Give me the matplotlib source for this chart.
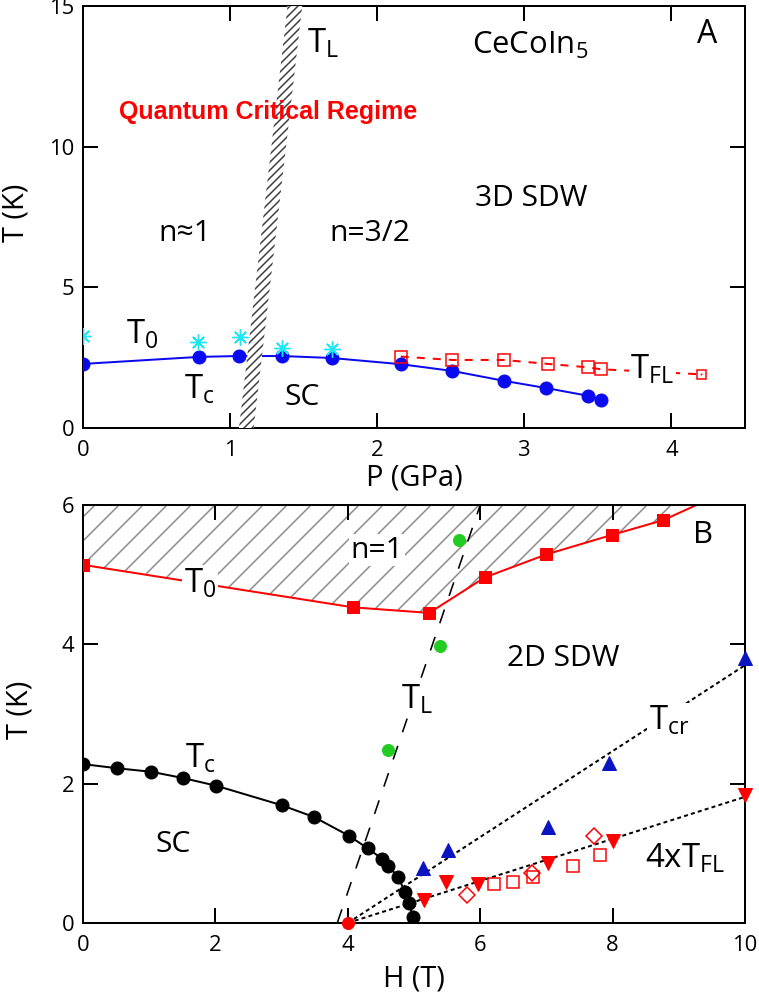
import matplotlib
matplotlib.use("Agg")
import matplotlib.pyplot as plt

plt.rcParams["font.family"] = ["Open Sans", "DejaVu Sans"]
plt.rcParams["mathtext.fontset"] = "custom"
plt.rcParams["mathtext.rm"] = "Open Sans"
plt.rcParams["mathtext.it"] = "Open Sans:italic"
plt.rcParams["mathtext.default"] = "rm"
plt.rcParams["hatch.linewidth"] = 1.5

# ---- panel A: T vs pressure ----
p_tc = [0.0, 0.79, 1.06, 1.35, 1.69, 2.16, 2.51, 2.86, 3.15, 3.43, 3.52]
t_tc = [2.28, 2.53, 2.56, 2.56, 2.49, 2.27, 2.03, 1.68, 1.42, 1.15, 1.0]
p_t0 = [0.0, 0.78, 1.07, 1.35, 1.69]
t_t0 = [3.28, 3.05, 3.23, 2.84, 2.81]
p_tfl = [2.16, 2.51, 2.86, 3.16, 3.43, 3.52, 4.2]
t_tfl = [2.54, 2.42, 2.42, 2.28, 2.16, 2.09, 1.91]
tl_band_t = [0, 15]
tl_band_left = [1.06, 1.39]
tl_band_right = [1.16, 1.49]

# ---- panel B: T vs field ----
h_tc = [0, 0.52, 1.03, 1.51, 2.01, 3.0, 3.49, 4.02, 4.3, 4.52, 4.61, 4.76, 4.86, 4.93, 4.98]
t_tc_h = [2.28, 2.22, 2.17, 2.08, 1.97, 1.69, 1.52, 1.25, 1.07, 0.92, 0.82, 0.66, 0.45, 0.28, 0.09]
h_t0 = [0, 4.08, 5.23, 6.07, 7.0, 7.99, 8.76]
t_t0_h = [5.14, 4.53, 4.45, 4.96, 5.29, 5.57, 5.78]
h_t0_end = 9.27   # T0 line runs on to the top of the frame
h_tl = [4.6, 5.39, 5.68]
t_tl = [2.48, 3.97, 5.5]
h_tl_line = [3.84, 6.0]
t_tl_line = [0, 6]
h_tcr = [5.14, 5.51, 7.02, 7.95, 10.0]
t_tcr = [0.79, 1.05, 1.38, 2.3, 3.8]
h_tcr_line = [4, 10]
t_tcr_line = [0, 3.7]
h_tfl4 = [5.15, 5.48, 5.97, 7.02, 8.0, 10.0]
t_tfl4 = [0.33, 0.59, 0.56, 0.86, 1.18, 1.84]
h_tfl4_line = [4, 10]
t_tfl4_line = [0, 1.81]
h_diam = [5.8, 6.78, 7.72]
t_diam = [0.4, 0.72, 1.25]
h_sq = [6.21, 6.5, 6.8, 7.4, 7.81]
t_sq = [0.56, 0.59, 0.66, 0.82, 0.98]
h_qcp = [4.0]
t_qcp = [0.0]

BLUE = "#0a0af0"
RED = "#ff0000"
CYAN = "#1ee6f2"
GREEN = "#22cc22"
NAVY = "#0a14c0"
WHITE_BOX = dict(facecolor="white", edgecolor="none", pad=1.5)


def style_axes(ax):
    ax.tick_params(direction="in", length=15, width=2, top=True, right=True,
                   labelsize=22, color="black")
    ax.tick_params(axis="x", pad=12)
    ax.tick_params(axis="y", pad=9)
    for s in ax.spines.values():
        s.set_linewidth(2)


def label(ax, x, y, s, size=30, box=False, **kw):
    if box:
        kw["bbox"] = WHITE_BOX
    ax.text(x, y, s, fontsize=size, ha="center", va="center", zorder=6, **kw)


fig = plt.figure(figsize=(759 / 72, 992 / 72), dpi=72)
axA = fig.add_axes([0.1094, 0.5685, 0.8722, 0.4254])
axB = fig.add_axes([0.1094, 0.0696, 0.8722, 0.4214])

# ---------------- panel A ----------------
axA.plot(p_tc, t_tc, "-o", color=BLUE, lw=2, ms=13, zorder=3)
axA.plot(p_t0, t_t0, ls="none", marker=(8, 2, 0), ms=16, mec=CYAN, mew=1.4, zorder=3)
axA.plot(p_tfl, t_tfl, color=RED, lw=2, dashes=(4, 4), zorder=2)
axA.plot(p_tfl[:-1], t_tfl[:-1], "s", ls="none", ms=12, mfc="none", mec=RED, mew=1.5, zorder=3)
axA.plot(p_tfl[-1:], t_tfl[-1:], "s", ls="none", ms=9, mfc="none", mec=RED, mew=1.5, zorder=3)
axA.plot(p_tfl[-1:], t_tfl[-1:], ".", ls="none", ms=2, color=RED, zorder=3)
axA.fill_betweenx(tl_band_t, tl_band_left, tl_band_right, facecolor="white",
                  edgecolor="#3c3c3c", hatch="///", linewidth=0, zorder=4)

axA.set_xlim(0, 4.5)
axA.set_ylim(0, 15)
axA.set_xticks([0, 1, 2, 3, 4])
axA.set_yticks([0, 5, 10, 15])
style_axes(axA)
axA.set_xlabel("P (GPa)", fontsize=29)
axA.xaxis.set_label_coords(0.5, -0.085)
axA.set_ylabel("T (K)", fontsize=29)
axA.yaxis.set_label_coords(-0.08, 0.51)

label(axA, 1.63, 13.67, r"T$_{\rm L}$", size=33)
label(axA, 3.04, 13.6, r"CeCoIn$_{\rm 5}$", size=31)
label(axA, 4.24, 14.0, "A", size=32)
label(axA, 1.26, 11.25, "Quantum Critical Regime", size=25, color=RED,
      family="Liberation Sans", weight="bold")
label(axA, 0.69, 6.9, "n≈1")
label(axA, 1.95, 6.9, "n=3/2")
label(axA, 3.05, 8.15, "3D SDW")
label(axA, 0.40, 3.3, r"T$_{\rm 0}$", size=33)
label(axA, 0.79, 1.35, r"T$_{\rm c}$", size=33)
label(axA, 1.49, 1.07, "SC")
label(axA, 3.87, 2.06, r"T$_{\rm FL}$", size=33, box=True)

# ---------------- panel B ----------------
h_t0_line = h_t0 + [h_t0_end]
t_t0_line = t_t0_h + [6.0]
axB.fill_between(h_t0_line, t_t0_line, 6.0, facecolor="white", edgecolor="#8a8a8a",
                 hatch="/", linewidth=0, zorder=1)
axB.plot(h_t0_line, t_t0_line, color=RED, lw=2, zorder=2)
axB.plot(h_t0, t_t0_h, "s", ls="none", color=RED, ms=12, zorder=3)
axB.plot(h_tc, t_tc_h, "-o", color="black", lw=2, ms=13, zorder=3)
axB.plot(h_tl_line, t_tl_line, color="black", lw=1.6, dashes=(9, 9), zorder=2)
axB.plot(h_tl, t_tl, "o", ls="none", color=GREEN, ms=12, zorder=3)
axB.plot(h_tcr_line, t_tcr_line, color="black", lw=2, dashes=(2, 1.6), zorder=2)
axB.plot(h_tfl4_line, t_tfl4_line, color="black", lw=2, dashes=(2, 1.6), zorder=2)
axB.plot(h_tcr, t_tcr, "^", ls="none", color=NAVY, ms=14, zorder=3, clip_on=False)
axB.plot(h_tfl4, t_tfl4, "v", ls="none", color=RED, ms=14, zorder=3, clip_on=False)
axB.plot(h_diam, t_diam, "D", ls="none", ms=11, mfc="none", mec=RED, mew=1.5, zorder=3)
axB.plot(h_sq, t_sq, "s", ls="none", ms=12, mfc="none", mec=RED, mew=1.5, zorder=3)
axB.plot(h_qcp, t_qcp, "o", ls="none", color=RED, ms=12, zorder=5, clip_on=False)

axB.set_xlim(0, 10)
axB.set_ylim(0, 6)
axB.set_xticks([0, 2, 4, 6, 8, 10])
axB.set_yticks([0, 2, 4, 6])
style_axes(axB)
axB.set_xlabel("H (T)", fontsize=29)
axB.xaxis.set_label_coords(0.5, -0.1)
axB.set_ylabel("T (K)", fontsize=29)
axB.yaxis.set_label_coords(-0.073, 0.51)

label(axB, 9.37, 5.57, "B", size=31)
label(axB, 4.44, 5.35, "n=1", box=True)
label(axB, 1.77, 4.87, r"T$_{\rm 0}$", size=33, box=True)
label(axB, 5.05, 3.2, r"T$_{\rm L}$", size=33, box=True)
label(axB, 7.26, 3.8, "2D SDW")
label(axB, 8.85, 2.9, r"T$_{\rm cr}$", size=33, box=True)
label(axB, 9.1, 0.92, r"4xT$_{\rm FL}$", size=33)
label(axB, 1.36, 1.12, "SC")
label(axB, 1.77, 2.35, r"T$_{\rm c}$", size=33)

fig.savefig("out.png", dpi=72)
